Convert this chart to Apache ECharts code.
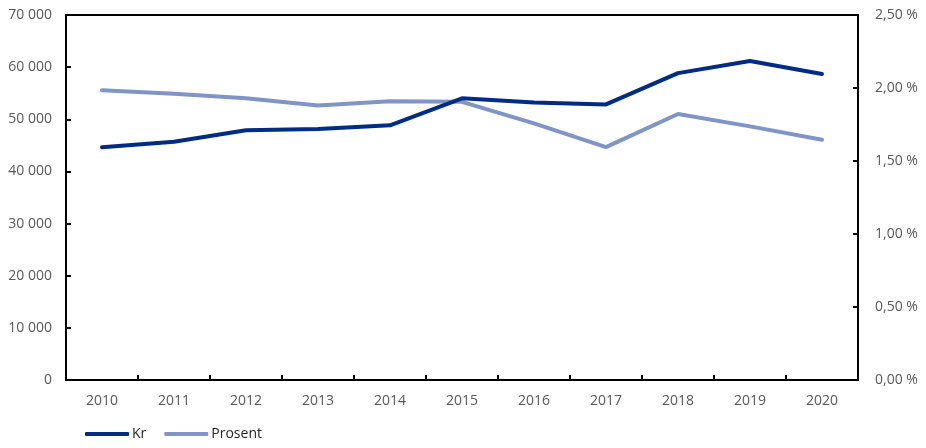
<!DOCTYPE html>
<html><head><meta charset="utf-8">
<script src="https://cdn.jsdelivr.net/npm/echarts@6/dist/echarts.min.js"></script>
<style>html,body{margin:0;padding:0;background:#fff}#c{width:926px;height:448px}</style>
</head><body><div id="c"></div>
<script>
const categories = ['2010','2011','2012','2013','2014','2015','2016','2017','2018','2019','2020'];
const krValues = [44650, 45700, 47900, 48150, 48850, 54030, 53200, 52850, 58850, 61180, 58700];
const prosentValues = [1.985, 1.960, 1.930, 1.880, 1.910, 1.905, 1.758, 1.595, 1.822, 1.737, 1.645];
const seriesNames = ['Kr', 'Prosent'];

const fmtKr = v => v === 0 ? '0' : String(v).replace(/\B(?=(\d{3})+(?!\d))/g, ' ');
const fmtPct = v => v.toFixed(2).replace('.', ',') + ' %';
const labelStyle = {color:'#595959', fontFamily:'Open Sans', fontSize:14};

const chart = echarts.init(document.getElementById('c'));
chart.setOption({
  animation:false,
  grid:{left:66, right:68, top:15, bottom:68, containLabel:false, show:true, borderColor:'#000', borderWidth:2, backgroundColor:'transparent'},
  legend:{
    data:seriesNames, left:85, top:427, padding:0, icon:'roundRect', itemWidth:44, itemHeight:4, itemGap:18,
    textStyle:{color:'#262626', fontFamily:'Open Sans', fontSize:14, padding:[0,0,0,-2]}
  },
  xAxis:{
    type:'category', data:categories, boundaryGap:true,
    axisLine:{lineStyle:{color:'#000', width:2}},
    axisTick:{show:true, inside:true, length:5, lineStyle:{color:'#000', width:2}},
    axisLabel:Object.assign({margin:14}, labelStyle),
    splitLine:{show:false}
  },
  yAxis:[
    {type:'value', min:0, max:70000, interval:10000, position:'left',
     axisLine:{show:true, lineStyle:{color:'#000', width:2}},
     axisTick:{show:true, inside:true, length:5, lineStyle:{color:'#000', width:2}},
     axisLabel:Object.assign({formatter:fmtKr, margin:14}, labelStyle),
     splitLine:{show:false}},
    {type:'value', min:0, max:2.5, interval:0.5, position:'right',
     axisLine:{show:true, lineStyle:{color:'#000', width:2}},
     axisTick:{show:true, inside:true, length:5, lineStyle:{color:'#000', width:2}},
     axisLabel:Object.assign({formatter:fmtPct, margin:17}, labelStyle),
     splitLine:{show:false}}
  ],
  series:[
    {name:seriesNames[0], type:'line', yAxisIndex:0, data:krValues, symbol:'none',
     lineStyle:{color:'#002B87', width:4, cap:'round'}, itemStyle:{color:'#002B87'}, z:3},
    {name:seriesNames[1], type:'line', yAxisIndex:1, data:prosentValues, symbol:'none',
     lineStyle:{color:'#7F95C6', width:4, cap:'round'}, itemStyle:{color:'#7F95C6'}, z:2}
  ]
});
</script></body></html>
